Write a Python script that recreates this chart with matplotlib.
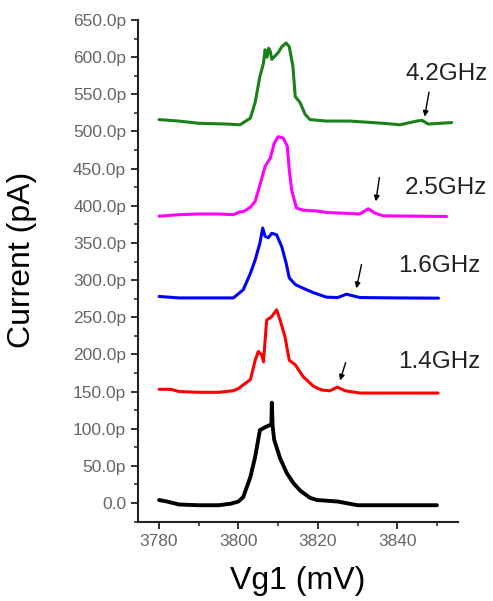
import numpy as np
import matplotlib
matplotlib.use("Agg")
import matplotlib.pyplot as plt
from matplotlib.ticker import MultipleLocator, FuncFormatter

plt.rcParams['font.family'] = ['Liberation Sans', 'DejaVu Sans']

# Vg1 (mV) and current (pA), one curve per frequency
v_0 = [3780, 3782, 3785, 3790, 3795, 3798, 3800, 3801.2, 3803, 3804.2, 3805.4, 3806.7,
       3808, 3808.3, 3808.4, 3808.6, 3809, 3810.5, 3812.2, 3813.8, 3815.5, 3818, 3819.8,
       3825, 3830, 3840, 3850]
i_0 = [4, 2, -2, -3, -3, -1, 2, 8, 35, 62, 98, 102,
       105, 106, 135, 104, 85, 60, 40, 27, 17, 7, 4,
       2, -3, -3, -3]

v_14 = [3780, 3783, 3785, 3790, 3795, 3798.6, 3800, 3801.2, 3803, 3804.2, 3805, 3805.9,
        3806.3, 3807.1, 3808.4, 3809.6, 3810.5, 3811.7, 3812.8, 3814.3, 3816.3, 3818.9,
        3821, 3823, 3824.9, 3826.9, 3830.6, 3840, 3850.3]
i_14 = [153, 153, 150, 149, 149, 151, 154, 159, 166, 192, 204, 199,
        190, 246, 251, 260, 246, 224, 192, 186, 170, 157,
        152, 151, 156, 151, 148, 148, 148]

v_16 = [3780, 3785, 3790, 3795, 3798.7, 3801.2, 3803, 3804.2, 3805.4, 3806.1, 3806.7,
        3807.5, 3808.4, 3809.6, 3810.9, 3812, 3812.8, 3814.3, 3816.3, 3818.9, 3822.2,
        3825, 3827.2, 3830.6, 3840, 3850.4]
i_16 = [278, 276, 276, 276, 276, 287, 309, 327, 350, 370, 359,
        357, 363, 361, 345, 323, 303, 294, 289, 283, 277,
        276.5, 281, 276.5, 276, 275.7]

v_25 = [3780, 3785, 3790, 3795, 3798.7, 3800.4, 3801.2, 3803, 3804.2, 3805.4, 3806.7,
        3808, 3809, 3810, 3811.3, 3812.3, 3812.8, 3813.4, 3814.6, 3816.3, 3819.7, 3822.2,
        3826.4, 3830.6, 3832.7, 3834.4, 3836.5, 3845, 3852.4]
i_25 = [386, 388, 389, 389, 388, 392, 392, 398, 406, 428, 453,
        464, 484, 493, 491, 480, 448, 421, 397, 394, 393, 391,
        390, 389, 396, 390, 386.5, 386, 385.6]

v_42 = [3780, 3785, 3790, 3797, 3800.4, 3803, 3804.2, 3805.4, 3806.3, 3806.7, 3807.2,
        3807.6, 3808, 3808.4, 3810, 3810.9, 3812, 3812.8, 3813.7, 3814.3, 3815.5, 3816.8,
        3818, 3822.2, 3828.1, 3836.5, 3840.7, 3844.9, 3846.2, 3847.8, 3850.8, 3853.7]
i_42 = [516, 514, 511, 510, 509, 518, 539, 574, 592, 610, 600,
        612, 608, 597, 606, 614, 619, 614, 588, 547, 539, 523,
        516, 514, 514, 511, 509, 514, 515, 510, 511, 512]

labels = ['4.2GHz', '2.5GHz', '1.6GHz', '1.4GHz']
label_pos = [(3842.2, 577), (3842.0, 424), (3840.2, 319), (3840.2, 190)]
# arrows marking the small side peaks: (tip, tail)
arrows = [((3846.9, 520), (3848.0, 553)),
          ((3834.6, 406), (3835.5, 438)),
          ((3829.7, 289), (3831.0, 321)),
          ((3825.6, 165), (3827.0, 189))]

fig = plt.figure(figsize=(4.93, 6.01), dpi=100)
ax = fig.add_axes([0.280, 0.1314, 0.649, 0.8353])

kw = dict(solid_joinstyle='round', solid_capstyle='round')
ax.plot(v_0, i_0, color='black', lw=2.8, **kw)
ax.plot(v_14, i_14, color='#ff0000', lw=2.2, **kw)
ax.plot(v_16, i_16, color='#0000ff', lw=2.2, **kw)
ax.plot(v_25, i_25, color='#ff00ff', lw=2.2, **kw)
ax.plot(v_42, i_42, color='#1a801a', lw=2.2, **kw)

for txt, (x, y) in zip(labels, label_pos):
    ax.text(x, y, txt, fontsize=17.5, color='#222222', ha='left', va='center',
            clip_on=False)
for tip, tail in arrows:
    ax.annotate('', xy=tip, xytext=tail,
                arrowprops=dict(arrowstyle='-|>', color='black', lw=1,
                                mutation_scale=8, shrinkA=0, shrinkB=0))

ax.set_xlim(3774.7, 3855.3)
ax.set_ylim(-25.6, 650)
ax.xaxis.set_major_locator(MultipleLocator(20))
ax.xaxis.set_minor_locator(MultipleLocator(10))
ax.yaxis.set_major_locator(MultipleLocator(50))
ax.yaxis.set_minor_locator(MultipleLocator(25))
ax.yaxis.set_major_formatter(FuncFormatter(lambda v, p: '0.0' if abs(v) < 1e-9 else '%.1fp' % v))

for s in ['top', 'right']:
    ax.spines[s].set_visible(False)
for s in ['left', 'bottom']:
    ax.spines[s].set_linewidth(1.5)
    ax.spines[s].set_color('#222222')

ax.tick_params(which='major', direction='out', length=5, width=1.3,
               labelsize=12.5, labelcolor='#666666', color='#222222')
ax.tick_params(which='minor', direction='out', length=3, width=1.1, color='#222222')

ax.set_xlabel('Vg1 (mV)', fontsize=23, labelpad=12)
ax.set_ylabel('Current (pA)', fontsize=23)
ax.yaxis.set_label_coords(-0.316, 0.522)

plt.savefig('out.png', dpi=100)
